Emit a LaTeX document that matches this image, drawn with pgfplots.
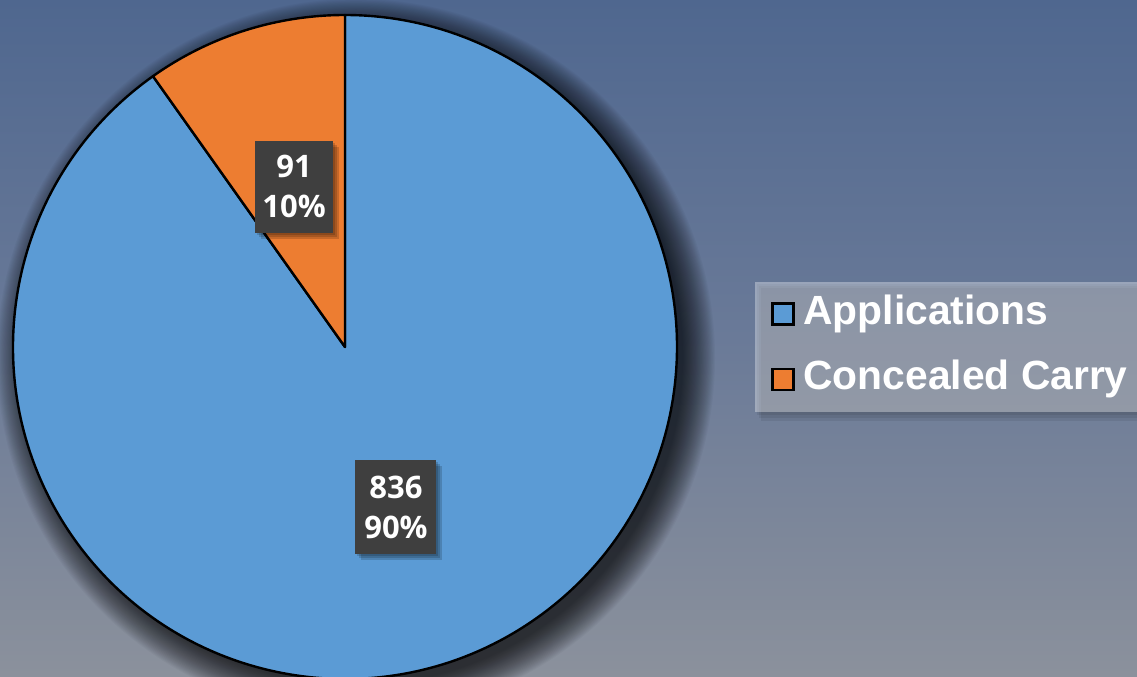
\documentclass[border=0pt]{standalone}
\usepackage{pgfplots}
\pgfplotsset{compat=1.18}
\usepackage{pgfplotstable}
\usepackage{fontspec}
\setmainfont{Liberation Sans}
\newfontfamily\labelfont{Open Sans}
\definecolor{appblue}{HTML}{5B9BD5}
\definecolor{ccorange}{HTML}{ED7D31}
\definecolor{bgtop}{HTML}{4F678F}
\definecolor{bgmid}{HTML}{6A7A98}
\definecolor{bgbot}{HTML}{8B919C}
\definecolor{lblbox}{HTML}{3F3F3F}

\pgfplotstableread{
name value
Applications 836
Concealed 91
}\piedata

\begin{document}%
\begin{tikzpicture}
\pgfplotstablegetelem{0}{value}\of\piedata \pgfmathsetmacro\va{\pgfplotsretval}
\pgfplotstablegetelem{1}{value}\of\piedata \pgfmathsetmacro\vb{\pgfplotsretval}
\pgfmathsetmacro\tot{\va+\vb}
\pgfmathsetmacro\spanb{\vb/\tot*360}
\pgfmathsetmacro\enda{90+\spanb}
\pgfmathsetmacro\midb{90+\spanb/2}
\pgfmathsetmacro\mida{\enda+(360-\spanb)/2}
\pgfmathtruncatemacro\pa{round(\va/\tot*100)}
\pgfmathtruncatemacro\pb{round(\vb/\tot*100)}
\pgfmathtruncatemacro\ia{\va}
\pgfmathtruncatemacro\ib{\vb}
\begin{axis}[name=ax, width=568.5pt, height=338pt, scale only axis, hide axis,
  xmin=0, xmax=1137, ymin=0, ymax=676, clip=true]
% background
\fill[top color=bgtop, bottom color=bgbot, middle color=bgmid] (axis cs:0,0) rectangle (axis cs:1137,676);
% pie shadow (soft)
\pgfplotsinvokeforeach{1,...,30}{
  \fill[black, opacity=0.032] (axis cs:356,318) circle[radius={163pt+(31-#1)*0.55pt}];
}
% slices
\fill[appblue, draw=black, line width=1.2pt, line join=round]
  (axis cs:345,329) -- ++(\enda:166pt) arc[start angle=\enda, end angle=450, radius=166pt] -- cycle;
\fill[ccorange, draw=black, line width=1.2pt, line join=round]
  (axis cs:345,329) -- ++(90:166pt) arc[start angle=90, end angle=\enda, radius=166pt] -- cycle;
% data labels
\path (axis cs:345,329) ++(\midb:84pt) coordinate (lb);
\path (axis cs:345,329) ++(\mida:84pt) coordinate (la);
\pgfplotsinvokeforeach{1,2,3}{
  \fill[black, opacity=0.16] ([xshift=#1*1pt, yshift=-#1*1pt]lb) ++(-19.5pt,-23pt) rectangle ++(39pt,46pt);
  \fill[black, opacity=0.16] ([xshift=#1*1pt, yshift=-#1*1pt]la) ++(-20.25pt,-23.5pt) rectangle ++(40.5pt,47pt);
}
\node[fill=lblbox, text=white, minimum width=39pt, minimum height=46pt, inner sep=0pt,
  align=center, font=\labelfont\bfseries\fontsize{15.5}{20}\selectfont] at (lb) {\ib\\\pb\%};
\node[fill=lblbox, text=white, minimum width=40.5pt, minimum height=47pt, inner sep=0pt,
  align=center, font=\labelfont\bfseries\fontsize{15.5}{20}\selectfont] at (la) {\ia\\\pa\%};
% legend
\fill[black, opacity=0.07] (axis cs:757,261) rectangle (axis cs:1137,392);
\fill[black, opacity=0.07] (axis cs:759,258) rectangle (axis cs:1137,390);
\fill[black, opacity=0.07] (axis cs:761,255) rectangle (axis cs:1137,388);
\fill[white, opacity=0.34] (axis cs:755,264) rectangle (axis cs:1137,394);
\draw[fill=appblue, line width=1.1pt] (axis cs:772.5,351.5) rectangle (axis cs:793.5,372.5);
\draw[fill=ccorange, line width=1.1pt] (axis cs:772.5,286) rectangle (axis cs:793.5,307);
\node[anchor=base west, inner sep=0pt, text=white, font=\bfseries\fontsize{20.4}{24}\selectfont] at (axis cs:803,351) {Applications};
\node[anchor=base west, inner sep=0pt, text=white, font=\bfseries\fontsize{20.4}{24}\selectfont] at (axis cs:803,286) {Concealed Carry};
\end{axis}
\pgfresetboundingbox
\path[use as bounding box] (ax.south west) rectangle (ax.north east);
\end{tikzpicture}%
\end{document}
